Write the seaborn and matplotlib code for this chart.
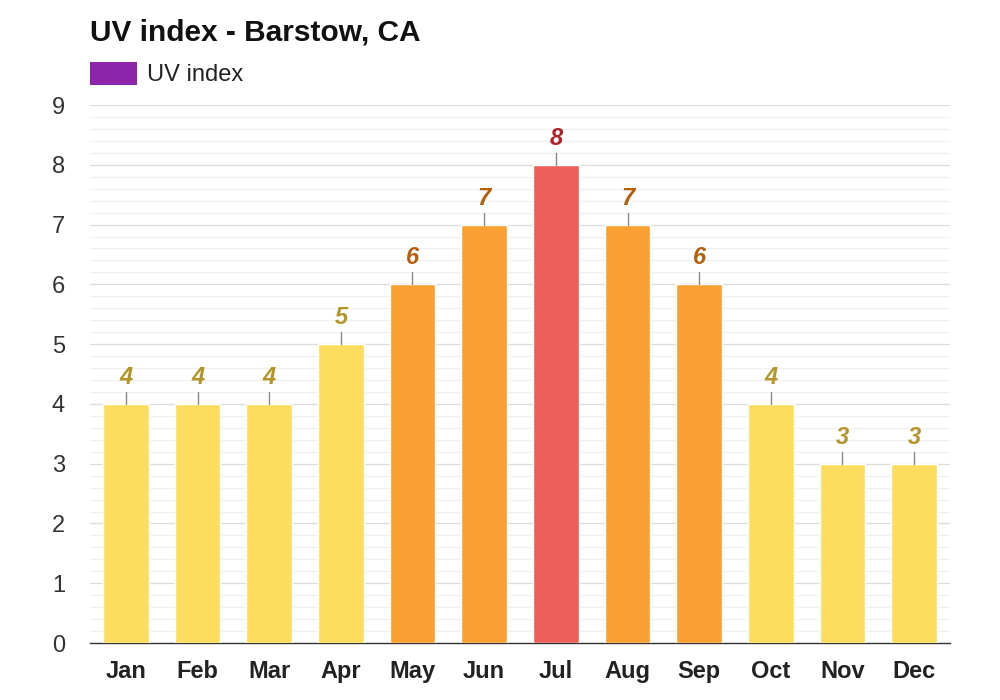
import matplotlib
matplotlib.use("Agg")
import matplotlib.pyplot as plt
from matplotlib.patches import Patch
from matplotlib.ticker import MultipleLocator
import seaborn as sns
import pandas as pd

months = ["Jan", "Feb", "Mar", "Apr", "May", "Jun", "Jul", "Aug", "Sep", "Oct", "Nov", "Dec"]
uv = [4, 4, 4, 5, 6, 7, 8, 7, 6, 4, 3, 3]

def level(v):
    if v >= 8:
        return "high"
    if v >= 6:
        return "mod"
    return "low"

bar_colors = {"low": "#FCDD5D", "mod": "#FAA032", "high": "#EC5E59"}
label_colors = {"low": "#B3952A", "mod": "#B35F0B", "high": "#B0232A"}

df = pd.DataFrame({"month": months, "uv": uv, "lvl": [level(v) for v in uv]})

sns.set_style("white")
plt.rcParams["font.family"] = ["Liberation Sans", "DejaVu Sans"]

fig = plt.figure(figsize=(10, 7), dpi=100)
ax = fig.add_axes([0.09, 0.0814, 0.86, 0.7686])

sns.barplot(data=df, x="month", y="uv", hue="lvl", palette=bar_colors,
            dodge=False, width=0.64, legend=False, saturation=1, ax=ax, zorder=3)

ax.set_ylim(0, 9)
ax.set_xlim(-0.5, 11.5)
ax.yaxis.set_major_locator(MultipleLocator(1))
ax.yaxis.set_minor_locator(MultipleLocator(0.2))
ax.grid(which="major", axis="y", color="#DDDDDD", linewidth=0.9, zorder=0)
ax.grid(which="minor", axis="y", color="#F0F0F0", linewidth=0.9, zorder=0)
ax.set_axisbelow(True)
for s in ["top", "right", "left"]:
    ax.spines[s].set_visible(False)
ax.spines["bottom"].set_color("#333333")
ax.spines["bottom"].set_linewidth(1.0)
ax.tick_params(axis="y", which="both", length=0, labelsize=17, labelcolor="#333333", pad=18)
ax.tick_params(axis="x", length=0, labelsize=17, pad=12)
for t in ax.get_xticklabels():
    t.set_fontweight("bold")
    t.set_color("#222222")
ax.set_xlabel("")
ax.set_ylabel("")

for i, (v, lv) in enumerate(zip(uv, df["lvl"])):
    ax.plot([i, i], [v, v + 0.2], color="#888888", linewidth=1, zorder=4)
    ax.text(i, v + 0.25, str(v), ha="center", va="bottom", fontsize=17,
            fontweight="bold", fontstyle="italic", color=label_colors[lv], zorder=5)

fig.text(0.09, 0.953, "UV index - Barstow, CA", fontsize=21.5, fontweight="bold",
         color="#111111", ha="left", va="center")
fig.legend(handles=[Patch(facecolor="#8E24AA", edgecolor="none", label="UV index")],
           loc="center left", bbox_to_anchor=(0.09, 0.894), frameon=False,
           borderpad=0, borderaxespad=0,
           fontsize=17, handlelength=2.0, handleheight=1.1, handletextpad=0.42,
           labelcolor="#222222")

fig.savefig("out.png", dpi=100, facecolor="white")
